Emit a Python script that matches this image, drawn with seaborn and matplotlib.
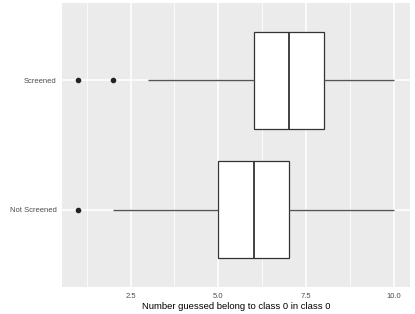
import matplotlib
matplotlib.use("Agg")
import matplotlib.pyplot as plt
import seaborn as sns
import pandas as pd

categories = ["Screened", "Not Screened"]
screened_values = [1, 2, 3, 6, 6, 6, 7, 7, 7, 8, 8, 8, 10]
not_screened_values = [1, 2, 5, 5, 5, 6, 6, 6, 7, 7, 7, 7, 10]
x_ticks = [2.5, 5.0, 7.5, 10.0]
x_tick_labels = ["2.5", "5.0", "7.5", "10.0"]

df = pd.DataFrame({
    "group": [categories[0]] * len(screened_values) + [categories[1]] * len(not_screened_values),
    "value": screened_values + not_screened_values,
})

sns.set_theme(style="darkgrid")
plt.rcParams['font.family'] = ['Liberation Sans', 'DejaVu Sans']

fig = plt.figure(figsize=(4.15, 3.14), dpi=100)
ax = fig.add_axes([62/415, 1 - 287/314, (410 - 62)/415, (287 - 3)/314])
ax.set_facecolor("#EBEBEB")

sns.boxplot(data=df, x="value", y="group", order=categories, orient="h", ax=ax,
            width=0.75, color="white", linecolor="#333333", linewidth=0.9,
            whis=1.5, showcaps=False,
            whiskerprops=dict(color="#555555", linewidth=1.0),
            flierprops=dict(marker="o", markerfacecolor="#222222", markeredgecolor="#222222",
                            markersize=3),
            medianprops=dict(color="#333333", linewidth=1.3))

ax.set_xlim(0.55, 10.45)
ax.set_ylim(1.6, -0.6)
ax.set_xticks(x_ticks)
ax.set_xticklabels(x_tick_labels)
ax.set_xticks([1.25, 3.75, 6.25, 8.75], minor=True)
ax.grid(True, which="major", color="white", linewidth=1.1)
ax.grid(True, which="minor", axis="x", color="white", linewidth=0.55)
ax.grid(False, which="minor", axis="y")
ax.set_axisbelow(True)
for s in ax.spines.values():
    s.set_visible(False)

ax.tick_params(axis="both", which="major", length=2.5, width=0.8, color="#333333",
               labelsize=5.5, labelcolor="#4D4D4D", pad=1.5)
ax.tick_params(axis="both", which="minor", length=0)
ax.set_ylabel("")
ax.set_xlabel("Number guessed belong to class 0 in class 0", fontsize=6.8, color="black", labelpad=2)

fig.savefig("out.png", dpi=100)
